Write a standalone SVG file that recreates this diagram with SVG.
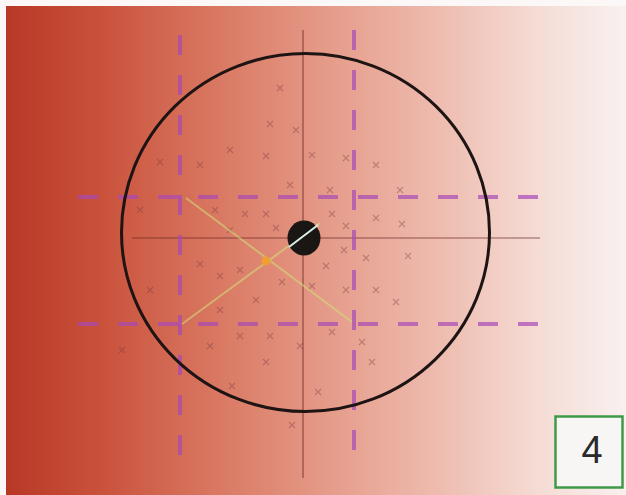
<svg xmlns="http://www.w3.org/2000/svg" width="626" height="495" viewBox="0 0 626 495">
<defs>
<linearGradient id="bg" x1="0" y1="0" x2="1" y2="0">
<stop offset="0" stop-color="#b83826"/>
<stop offset="0.15" stop-color="#c9513b"/>
<stop offset="0.35" stop-color="#da7a64"/>
<stop offset="0.55" stop-color="#e7a190"/>
<stop offset="0.72" stop-color="#efc0b4"/>
<stop offset="0.86" stop-color="#f5dcd5"/>
<stop offset="1" stop-color="#f8f1ef"/>
</linearGradient>
<g id="xm"><path d="M-3,-3 L3,3 M3,-3 L-3,3"/></g>
</defs>
<style>
.thin{stroke:#6a2a28;stroke-width:1.2;stroke-opacity:0.7;fill:none}
.dash{stroke:#a848b8;stroke-width:4;stroke-opacity:0.7;stroke-dasharray:20 20;fill:none}
.diag{stroke:#d4e07a;stroke-width:2;stroke-opacity:0.55;fill:none}
.marks use{stroke:#7a3c44;stroke-width:1.1;stroke-opacity:0.4;fill:none}
</style>
<rect x="0" y="0" width="626" height="495" fill="#fbf8f7"/>
<rect x="6" y="6" width="620" height="489" fill="url(#bg)"/>
<g id="marks" class="marks">
<use href="#xm" x="280" y="88"/><use href="#xm" x="296" y="130"/><use href="#xm" x="270" y="124"/>
<use href="#xm" x="230" y="150"/><use href="#xm" x="266" y="156"/><use href="#xm" x="312" y="155"/>
<use href="#xm" x="346" y="158"/><use href="#xm" x="376" y="165"/><use href="#xm" x="200" y="165"/>
<use href="#xm" x="215" y="210"/><use href="#xm" x="245" y="214"/><use href="#xm" x="266" y="214"/>
<use href="#xm" x="230" y="230"/><use href="#xm" x="276" y="228"/><use href="#xm" x="332" y="214"/>
<use href="#xm" x="346" y="226"/><use href="#xm" x="376" y="218"/><use href="#xm" x="402" y="224"/>
<use href="#xm" x="408" y="256"/><use href="#xm" x="366" y="258"/><use href="#xm" x="344" y="250"/>
<use href="#xm" x="326" y="266"/><use href="#xm" x="240" y="270"/><use href="#xm" x="220" y="276"/>
<use href="#xm" x="200" y="264"/><use href="#xm" x="282" y="282"/><use href="#xm" x="312" y="286"/>
<use href="#xm" x="346" y="290"/><use href="#xm" x="376" y="290"/><use href="#xm" x="396" y="302"/>
<use href="#xm" x="220" y="310"/><use href="#xm" x="256" y="300"/><use href="#xm" x="240" y="336"/>
<use href="#xm" x="270" y="336"/><use href="#xm" x="300" y="346"/><use href="#xm" x="332" y="332"/>
<use href="#xm" x="362" y="342"/><use href="#xm" x="372" y="362"/><use href="#xm" x="210" y="346"/>
<use href="#xm" x="266" y="362"/><use href="#xm" x="122" y="350"/><use href="#xm" x="232" y="386"/>
<use href="#xm" x="292" y="425"/><use href="#xm" x="318" y="392"/><use href="#xm" x="313" y="230"/>
<use href="#xm" x="160" y="162"/><use href="#xm" x="140" y="210"/><use href="#xm" x="150" y="290"/>
<use href="#xm" x="330" y="190"/><use href="#xm" x="290" y="185"/><use href="#xm" x="400" y="190"/>
</g>
<g id="connectors">
<line class="thin" x1="132" y1="238" x2="540" y2="238"/>
<line class="thin" x1="303" y1="30" x2="303" y2="478"/>
<line class="dash" x1="180" y1="35" x2="180" y2="460"/>
<line class="dash" x1="354" y1="30" x2="354" y2="455"/>
<line class="dash" x1="78" y1="197" x2="545" y2="197"/>
<line class="dash" x1="78" y1="324" x2="545" y2="324"/>
<line class="diag" x1="186" y1="198" x2="352" y2="322"/>
<line class="diag" x1="182" y1="324" x2="320" y2="223"/>
</g>
<g id="circle">
<ellipse cx="305.5" cy="232.5" rx="184" ry="179" fill="none" stroke="#1e1414" stroke-width="3"/>
</g>
<g id="center-dot">
<ellipse cx="304" cy="238" rx="16.5" ry="17.5" fill="#1a1614"/>
<line x1="289" y1="247" x2="318" y2="225" stroke="#d8f0e8" stroke-width="2"/>
</g>
<g id="mid-dot">
<circle cx="266" cy="261" r="4.5" fill="#f0a030"/>
</g>
<g id="label-box">
<rect x="555.5" y="416.5" width="67" height="71" fill="#f8f6f5" stroke="#3f9a48" stroke-width="2.5"/>
<text x="592" y="463" font-family="Liberation Sans, Arial, sans-serif" font-size="38" fill="#2a2a2a" text-anchor="middle">4</text>
</g>
</svg>
